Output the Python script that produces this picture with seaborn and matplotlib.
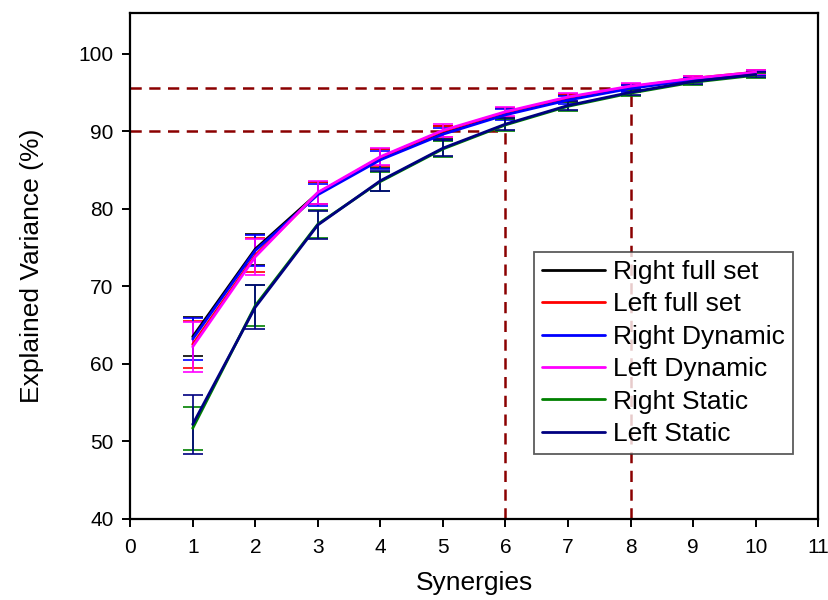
import matplotlib
matplotlib.use("Agg")
import matplotlib.pyplot as plt
import seaborn as sns
import pandas as pd
import numpy as np

synergies = [1, 2, 3, 4, 5, 6, 7, 8, 9, 10]
series_names = ["Right full set", "Left full set", "Right Dynamic", "Left Dynamic", "Right Static", "Left Static"]
right_full = [63.5, 74.8, 82.0, 86.5, 89.8, 92.3, 94.2, 95.6, 96.7, 97.5]
left_full = [62.5, 74.0, 82.0, 86.6, 90.0, 92.4, 94.3, 95.7, 96.8, 97.6]
right_dyn = [63.2, 74.6, 81.8, 86.3, 89.6, 92.1, 94.0, 95.5, 96.6, 97.5]
left_dyn = [62.2, 73.8, 82.1, 86.7, 90.1, 92.5, 94.4, 95.8, 96.8, 97.6]
right_static = [51.7, 67.5, 78.0, 83.5, 87.7, 90.8, 93.2, 94.9, 96.3, 97.2]
left_static = [52.2, 67.3, 77.9, 83.6, 87.8, 90.9, 93.3, 95.0, 96.4, 97.3]

err_right_full = [2.5, 2.0, 1.4, 1.2, 0.8, 0.7, 0.5, 0.4, 0.3, 0.3]
err_left_full = [3.0, 2.2, 1.4, 1.1, 0.7, 0.6, 0.5, 0.4, 0.3, 0.3]
err_right_dyn = [2.7, 2.0, 1.4, 1.2, 0.8, 0.7, 0.5, 0.4, 0.3, 0.3]
err_left_dyn = [3.2, 2.3, 1.5, 1.1, 0.8, 0.6, 0.5, 0.4, 0.3, 0.3]
err_right_static = [2.8, 2.6, 1.8, 1.2, 1.0, 0.8, 0.6, 0.4, 0.3, 0.3]
err_left_static = [3.8, 2.8, 1.8, 1.3, 1.0, 0.8, 0.6, 0.4, 0.3, 0.3]

thresholds = [90.0, 95.6]
threshold_synergies = [6, 8]

colors = ["#000000", "#ff0000", "#0000ff", "#ff00ff", "#008000", "#000080"]

values = [right_full, left_full, right_dyn, left_dyn, right_static, left_static]
errors = [err_right_full, err_left_full, err_right_dyn, err_left_dyn, err_right_static, err_left_static]

rows = []
for name, v, e in zip(series_names, values, errors):
    for s, val, err in zip(synergies, v, e):
        rows.append({"Synergies": s, "Variance": val, "err": err, "Series": name})
df = pd.DataFrame(rows)

sns.set_style("ticks")
plt.rcParams["font.family"] = ["Liberation Sans", "DejaVu Sans"]
plt.rcParams["text.color"] = "black"
plt.rcParams["axes.labelcolor"] = "black"
plt.rcParams["xtick.color"] = "black"
plt.rcParams["ytick.color"] = "black"

fig = plt.figure(figsize=(8.29, 6.0), dpi=100)
ax = fig.add_axes([0.157, 0.135, 0.83, 0.843])

# reference dashed lines
for t, s in zip(thresholds, threshold_synergies):
    ax.plot([0, s], [t, t], color="#8b0000", lw=1.8, ls=(0, (4.5, 3)), zorder=1)
    ax.plot([s, s], [40, t], color="#8b0000", lw=1.8, ls=(0, (4.5, 3)), zorder=1)

for name, c in zip(series_names, colors):
    sub = df[df["Series"] == name]
    ax.errorbar(sub["Synergies"], sub["Variance"], yerr=sub["err"], fmt="none",
                ecolor=c, elinewidth=1.2, capsize=7, capthick=1.2, zorder=2)

sns.lineplot(data=df, x="Synergies", y="Variance", hue="Series", hue_order=series_names,
             palette=colors, lw=2.0, ax=ax, zorder=3, legend=True)

ax.set_xlim(0, 11)
ax.set_ylim(40, 105.2)
ax.set_xticks(range(0, 12))
ax.set_yticks(range(40, 101, 10))
ax.tick_params(axis="both", labelsize=15, length=6, width=1.4, direction="out")
ax.tick_params(axis="x", pad=8)
ax.tick_params(axis="y", pad=6)
ax.set_xlabel("Synergies", fontsize=19, labelpad=10)
ax.set_ylabel("Explained Variance (%)", fontsize=19, labelpad=25)
for sp in ax.spines.values():
    sp.set_linewidth(1.6)
    sp.set_color("black")

leg = ax.legend(loc="upper left", bbox_to_anchor=(0.587, 0.528), fontsize=19, frameon=True,
                fancybox=False, edgecolor="#333333", handlelength=2.4, handletextpad=0.3,
                labelspacing=0.32, borderpad=0.3, borderaxespad=0.0)
leg.get_frame().set_linewidth(1.3)
for line in leg.get_lines():
    line.set_linewidth(2.0)

fig.savefig("out.png", dpi=100)
